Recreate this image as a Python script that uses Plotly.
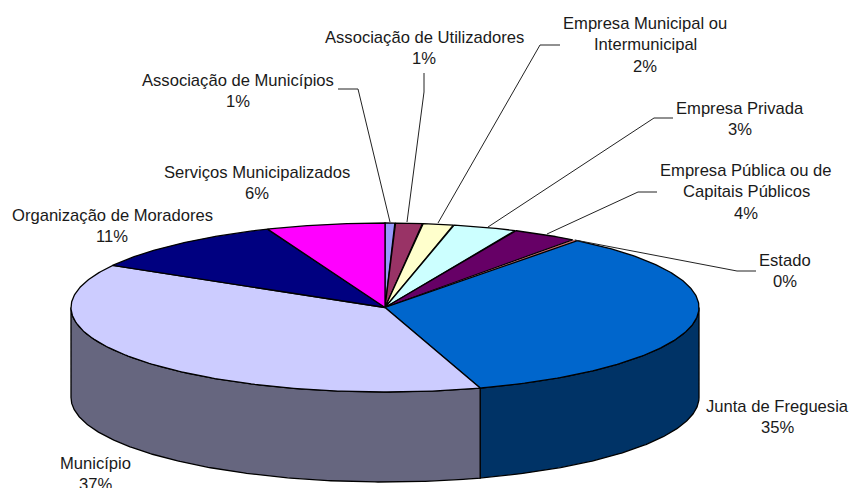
import numpy as np
import plotly.graph_objects as go

# slices, clockwise from the top of the pie
categories = ["Associação de Municípios", "Associação de Utilizadores",
              "Empresa Municipal ou<br>Intermunicipal", "Empresa Privada",
              "Empresa Pública ou de<br>Capitais Públicos", "Estado",
              "Junta de Freguesia", "Município",
              "Organização de Moradores", "Serviços Municipalizados"]
values = [0.5, 1.4, 1.6, 3.3, 3.4, 0.3, 34.6, 38.2, 10.6, 6.1]
pct_labels = ["1%", "1%", "2%", "3%", "4%", "0%", "35%", "37%", "11%", "6%"]
top_colors = ["#9999FF", "#993366", "#FFFFCC", "#CCFFFF", "#660066",
              "#FF8080", "#0066CC", "#CCCCFF", "#000080", "#FF00FF"]
side_colors = ["#66667F", "#66264D", "#7F7F66", "#667F7F", "#330033",
               "#7F4040", "#003366", "#66667F", "#000040", "#7F007F"]

# label centre x, y of first text line
label_pos = [(238, 80), (424, 37), (645, 23), (740, 108), (746, 170),
             (785, 260), (777, 406), (95, 463), (112, 215), (257, 172)]
# leader lines, label end to pie edge
leaders = [[(338, 89), (358, 89), (390, 222)],
           [(424, 73), (424, 92), (407, 222)],
           [(560, 45), (540, 45), (438, 223)],
           [(673, 118), (654, 118), (488, 227)],
           [(657, 192), (638, 192), (547, 234)],
           [(756, 271), (737, 271), (575, 240)]]

CX, CY, RX, RY, DEPTH = 385, 307.5, 314, 84.5, 90


def arc(a0, a1, dy=0):
    t = np.radians(np.linspace(a0, a1, 200))
    return CX + RX * np.sin(t), CY - RY * np.cos(t) + dy


edges = np.concatenate([[0], np.cumsum(values)]) / sum(values) * 360
fig = go.Figure()

# side walls, only the part in front is visible
for i in range(len(values)):
    a0, a1 = max(edges[i], 90), min(edges[i + 1], 270)
    if a1 <= a0:
        continue
    x1, y1 = arc(a0, a1)
    x2, y2 = arc(a1, a0, DEPTH)
    fig.add_trace(go.Scatter(x=np.r_[x1, x2, x1[0]], y=np.r_[y1, y2, y1[0]], mode="lines", fill="toself",
                             fillcolor=side_colors[i], line=dict(color="black", width=1.3), hoverinfo="skip"))

for i in range(len(values)):
    x1, y1 = arc(edges[i], edges[i + 1])
    # the Estado sliver would be all outline otherwise
    lw = 0.4 if values[i] < 0.4 else 1.3
    fig.add_trace(go.Scatter(x=np.r_[CX, x1, CX], y=np.r_[CY, y1, CY], mode="lines", fill="toself",
                             fillcolor=top_colors[i], line=dict(color="black", width=lw),
                             name=categories[i].replace("<br>", " "), hoverinfo="name"))

for pts in leaders:
    fig.add_trace(go.Scatter(x=[p[0] for p in pts], y=[p[1] for p in pts], mode="lines",
                             line=dict(color="#222222", width=1), hoverinfo="skip"))

# one annotation per line, the line gap is wider than plotly's own
for i, cat in enumerate(categories):
    lines = cat.split("<br>") + [pct_labels[i]]
    for j, txt in enumerate(lines):
        fig.add_annotation(x=label_pos[i][0], y=label_pos[i][1] + j * 21.5, text=txt, showarrow=False,
                           xanchor="center", yanchor="middle", font=dict(size=16.6, color="#1a1a1a"))

fig.update_xaxes(range=[0, 851], visible=False, fixedrange=True)
fig.update_yaxes(range=[488, 0], visible=False, fixedrange=True)
fig.update_layout(
    width=851, height=488,
    margin=dict(l=0, r=0, t=0, b=0),
    showlegend=False,
    paper_bgcolor="white", plot_bgcolor="white",
    font_family="Liberation Sans")

fig.write_html("out.html", config=dict(displayModeBar=False),
               post_script="document.body.style.margin='0';")
